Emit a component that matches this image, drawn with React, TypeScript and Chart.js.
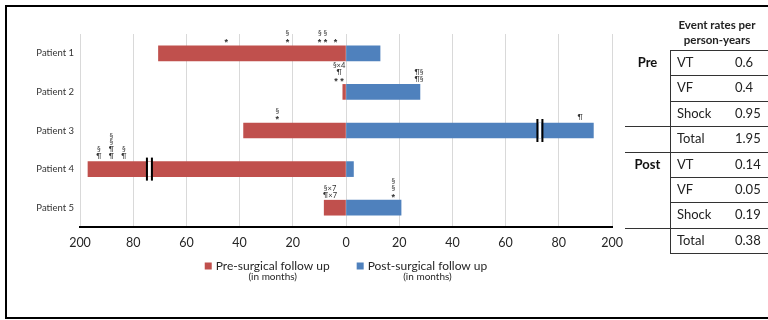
import React, { useEffect, useRef } from 'react';
import { Chart, registerables } from 'chart.js';

Chart.register(...registerables);

const patients = ['Patient 1', 'Patient 2', 'Patient 3', 'Patient 4', 'Patient 5'];
const preFollowUp = [-70.5, -1.2, -38.5, -97, -8.2];
const postFollowUp = [12.8, 27.8, 93, 2.8, 20.7];
const xTickValues = [-100, -80, -60, -40, -20, 0, 20, 40, 60, 80, 100];
const xTickLabels = ['200', '80', '60', '40', '20', '0', '20', '40', '60', '80', '200'];
const seriesNames = ['Pre-surgical follow up', 'Post-surgical follow up'];
const seriesUnits = ['(in months)', '(in months)'];
const seriesColors = ['#C0504D', '#4F81BD'];

const annotationRows = [0, 0, 0, 0, 1, 1, 2, 2, 3, 3, 3, 4, 4];
const annotationX = [-45, -22, -8.8, -3.9, -2.6, 27.4, -25.8, 88, -92.9, -88.2, -83.5, -6, 17.8];
const annotationText = [
  ['*'], ['§', '*'], ['§ §', '* *'], ['*'],
  ['§×4', '¶', '* *'], ['¶§', '¶§'],
  ['§', '*'], ['¶'],
  ['§', '¶'], ['§', '§', '¶', '¶'], ['§', '¶'],
  ['§×7', '¶×7'], ['§', '§', '*'],
];
const breakRows = [2, 3];
const breakX = [72.9, -73.9];

const tableTitle = ['Event rates per', 'person-years'];
const groups = ['Pre', 'Post'];
const eventTypes = ['VT', 'VF', 'Shock', 'Total'];
const preRates = ['0.6', '0.4', '0.95', '1.95'];
const postRates = ['0.14', '0.05', '0.19', '0.38'];
const groupRates = [preRates, postRates];

const FONT = 'Lato';

const overlayPlugin = {
  id: 'overlay',
  afterDatasetsDraw(chart: any) {
    const ctx = chart.ctx;
    const xs = chart.scales.x;
    const ys = chart.scales.y;
    const meta = chart.getDatasetMeta(0);
    const barH = meta.data[0] ? meta.data[0].height : 15;
    ctx.save();
    breakRows.forEach((row, i) => {
      const cy = ys.getPixelForValue(row);
      const cx = xs.getPixelForValue(breakX[i]);
      const top = cy - barH / 2 - 4;
      const h = barH + 8;
      ctx.fillStyle = '#ffffff';
      ctx.fillRect(cx - 1.5, cy - barH / 2, 3, barH);
      ctx.fillStyle = '#000000';
      ctx.fillRect(cx - 3.5, top, 2, h);
      ctx.fillRect(cx + 1.5, top, 2, h);
    });
    ctx.fillStyle = '#333333';
    ctx.textAlign = 'center';
    ctx.textBaseline = 'middle';
    annotationRows.forEach((row, i) => {
      const cy = ys.getPixelForValue(row);
      const barTop = cy - barH / 2;
      const cx = xs.getPixelForValue(annotationX[i]);
      const lines = annotationText[i];
      lines.forEach((t, j) => {
        const y = barTop - 5 - (lines.length - 1 - j) * 6.8;
        if (t.indexOf('*') >= 0) {
          ctx.font = `bold 9px "Liberation Sans"`;
          ctx.fillText(t, cx, y + 2);
        } else {
          ctx.font = `7.5px ${FONT}`;
          ctx.fillText(t, cx, y);
        }
      });
    });
    ctx.restore();
  },
  afterDraw(chart: any) {
    const ctx = chart.ctx;
    const area = chart.chartArea;
    ctx.save();
    ctx.font = `12px ${FONT}`;
    const sq = 7, gapIn = 4, gapOut = 27;
    const widths = seriesNames.map((n) => ctx.measureText(n).width);
    const total = widths.reduce((a, w) => a + sq + gapIn + w, 0) + gapOut * (seriesNames.length - 1);
    let x = (area.left + area.right) / 2 - total / 2;
    const yMain = 266;
    const ySub = 277;
    seriesNames.forEach((n, i) => {
      ctx.fillStyle = seriesColors[i];
      ctx.fillRect(x, yMain - sq / 2, sq, sq);
      const tx = x + sq + gapIn;
      ctx.fillStyle = '#262626';
      ctx.textAlign = 'left';
      ctx.textBaseline = 'middle';
      ctx.font = `12px ${FONT}`;
      ctx.fillText(n, tx, yMain);
      ctx.font = `10px ${FONT}`;
      ctx.textAlign = 'center';
      ctx.fillText(seriesUnits[i], tx + widths[i] / 2, ySub);
      ctx.font = `12px ${FONT}`;
      x = tx + widths[i] + gapOut;
    });
    ctx.restore();
  },
};

function EventTable() {
  const ROW_TOP = 50;
  const ROW_H = 25.4;
  const COL_X = 670;
  const GROUP_X = 625;
  const lineColor = '#333333';
  const items: any[] = [];
  items.push(
    <div key="vline" style={{ position: 'absolute', left: COL_X, top: ROW_TOP, width: 1, height: ROW_H * 8, background: lineColor }} />
  );
  items.push(
    <div key="tline" style={{ position: 'absolute', left: COL_X, top: ROW_TOP, width: 120, height: 1, background: lineColor }} />
  );
  groups.forEach((g, gi) => {
    eventTypes.forEach((ev, r) => {
      const y = ROW_TOP + (gi * 4 + r) * ROW_H;
      const lineLeft = r === 2 || (r === 3 && gi === 0) ? GROUP_X : COL_X;
      items.push(
        <div key={`l${gi}${r}`} style={{ position: 'absolute', left: lineLeft, top: Math.round(y + ROW_H), width: 200, height: 1, background: lineColor }} />
      );
      items.push(
        <div key={`t${gi}${r}`} style={{ position: 'absolute', left: 677, top: y, height: ROW_H, lineHeight: `${ROW_H}px`, fontSize: 13, color: '#222' }}>{ev}</div>
      );
      items.push(
        <div key={`v${gi}${r}`} style={{ position: 'absolute', left: 735, top: y, height: ROW_H, lineHeight: `${ROW_H}px`, fontSize: 13, color: '#222' }}>{groupRates[gi][r]}</div>
      );
      if (r === 0) {
        items.push(
          <div key={`g${gi}`} style={{ position: 'absolute', left: GROUP_X, width: COL_X - GROUP_X, textAlign: 'center', top: y, height: ROW_H, lineHeight: `${ROW_H}px`, fontSize: 13, fontWeight: 700, color: '#111' }}>{g}</div>
        );
      }
    });
  });
  items.push(
    <div key="title" style={{ position: 'absolute', left: 667, width: 100, top: 17, textAlign: 'center', fontSize: 11.5, lineHeight: '15px', fontWeight: 700, color: '#222' }}>
      {tableTitle.map((t, i) => (<div key={i}>{t}</div>))}
    </div>
  );
  return <>{items}</>;
}

export default function App() {
  const canvasRef = useRef<HTMLCanvasElement | null>(null);

  useEffect(() => {
    if (!canvasRef.current) return;
    const chart = new Chart(canvasRef.current, {
      type: 'bar',
      data: {
        labels: patients,
        datasets: [
          { label: seriesNames[0], data: preFollowUp, backgroundColor: seriesColors[0], barThickness: 15 },
          { label: seriesNames[1], data: postFollowUp, backgroundColor: seriesColors[1], barThickness: 15 },
        ],
      },
      options: {
        indexAxis: 'y',
        animation: false,
        responsive: false,
        layout: { padding: { left: 0, top: 34, right: 156, bottom: 0 } },
        plugins: { legend: { display: false }, tooltip: { enabled: false } },
        scales: {
          x: {
            stacked: true,
            min: -100,
            max: 100,
            afterBuildTicks: (scale: any) => {
              scale.ticks = xTickValues.map((v) => ({ value: v }));
            },
            afterFit: (scale: any) => {
              scale.height = 93;
            },
            ticks: {
              padding: 8,
              color: '#262626',
              font: { family: FONT, size: 12.5 },
              maxRotation: 0,
              autoSkip: false,
              callback: (v: any, i: number) => xTickLabels[i],
            },
            grid: { color: '#d9d9d9', drawTicks: false, lineWidth: 1 },
            border: { display: true, color: '#000000', width: 2 },
          },
          y: {
            stacked: true,
            afterFit: (scale: any) => {
              scale.width = 80;
            },
            ticks: {
              padding: 6,
              color: '#333333',
              font: { family: FONT, size: 9.5 },
            },
            grid: { display: false, drawTicks: false },
            border: { display: false },
          },
        },
      },
      plugins: [overlayPlugin],
    } as any);
    return () => chart.destroy();
  }, []);

  return (
    <div style={{ position: 'absolute', left: 0, top: 0, width: 768, height: 320, overflow: 'hidden', background: '#fff', fontFamily: FONT }}>
      <canvas ref={canvasRef} width={768} height={320} style={{ position: 'absolute', left: 0, top: 0, display: 'block' }} />
      <EventTable />
      <div style={{ position: 'absolute', left: 5, top: 5, width: 800, height: 314, boxSizing: 'border-box', border: '2px solid #000', pointerEvents: 'none' }} />
    </div>
  );
}
